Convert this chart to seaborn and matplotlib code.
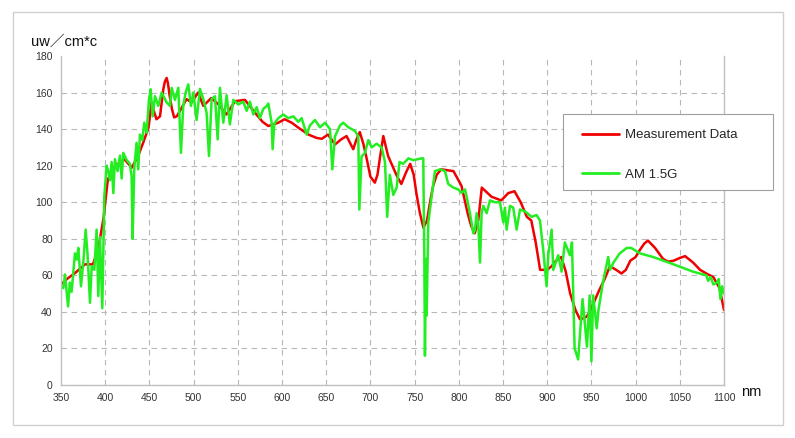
import matplotlib
matplotlib.use("Agg")
import matplotlib.pyplot as plt
import seaborn as sns
import pandas as pd
from matplotlib.patches import Rectangle

# ---------------- data ----------------
meas_nm = [350, 358, 366, 377, 386, 392, 398, 403, 411, 422, 430, 437, 443, 449, 452.5, 455, 458,
           462, 465.7, 467.5, 469.5, 471, 473, 475.5, 478, 481, 484.6, 492, 497.8, 505, 511, 520,
           528, 537, 547, 558, 569.4, 578, 584.5, 595.8, 603, 611, 618.5, 630, 639, 645, 652,
           660, 667, 673, 680.6, 684, 688, 692, 696, 700, 705, 708, 711, 714.6, 720, 730, 735,
           740, 745, 749, 752, 756, 760, 764, 768, 771, 775, 780, 794, 803, 810, 814, 818, 822,
           826, 837, 848, 856, 863, 870, 877, 882, 887, 892, 900, 905, 910, 916, 921, 926, 932,
           937, 941, 945, 950, 958, 965, 971, 978, 984, 989, 994, 1000, 1005, 1010, 1014, 1018,
           1022, 1031, 1037, 1043, 1050, 1056, 1065, 1073, 1080, 1088, 1095, 1100]
meas_val = [55, 58.5, 61.3, 66, 66, 74, 91, 112.5, 119.8, 123.4, 118.9, 125, 132.6, 140.8, 154.5,
            150, 145.4, 147, 161.7, 166, 168, 165, 158, 151, 146.4, 147, 150, 156.4, 154.6, 160,
            152.7, 157, 153.6, 148, 155.3, 156, 149, 144, 141.7, 143.5, 145.4, 143.5, 140.8,
            137, 135.2, 134.7, 137, 131.6, 134.4, 136.2, 129, 134, 138.4, 132, 123.4, 114,
            110.7, 115, 125, 136.2, 125.3, 114.3, 110, 116, 121, 115, 105, 94, 86, 90, 101.5,
            109, 115, 118, 117, 109, 94, 87, 83, 90, 108, 103, 101, 105, 106, 100, 92, 90, 78,
            63, 63, 65, 68, 70, 62, 50, 41, 36, 36.5, 37.6, 42, 51, 58, 65, 63, 61, 63, 68, 70,
            74, 77.5, 79, 77, 75, 69, 67.5, 68, 69.5, 70.5, 67, 63, 61, 59, 53, 41]

am_nm = [350, 352.6, 354.5, 358, 360, 362, 365.8, 367.7, 369.6, 372.6, 375.2, 377.9, 380.1, 382.8,
         384.7, 387.7, 390.3, 392.2, 394.1, 396.7, 399, 401.6, 403.5, 405.4, 407.3, 409.2, 411,
         414, 416.7, 418.6, 420.5, 424.3, 428, 429.9, 431, 432.9, 435.5, 437.4, 439.3, 442,
         444.2, 446.9, 449.5, 451.4, 453.7, 456.3, 460.1, 463.8, 469.5, 473.3, 475.2, 478.9,
         482.7, 485.7, 488.3, 491, 494, 497, 499.7, 503.4, 507.2, 511, 514.7, 517.4, 520.4,
         524.2, 527.2, 529.8, 533.6, 537.4, 541, 545, 550.6, 556.2, 560, 563.8, 567.5, 571.3,
         575, 578.8, 582.6, 584.5, 588.3, 589.4, 591.3, 595.8, 601.5, 607, 612.8, 618.5, 622.2,
         627.9, 631.6, 637.3, 643, 648.6, 654.3, 656.9, 659.9, 665.6, 669.3, 675, 682.5, 686.3,
         687.5, 690, 693.8, 697.6, 701.4, 707, 712.7, 716.5, 719, 722, 725.9, 729.7, 733, 737,
         743, 748.5, 758, 759.8, 761, 761.7, 762.9, 763.6, 764.7, 765.5, 769.3, 773, 778.7,
         784.4, 788, 793.8, 799.4, 803.2, 807, 808.9, 812.6, 816.4, 818.3, 820.2, 822, 824,
         825.8, 827.7, 831.5, 835.3, 840.9, 846.6, 850.3, 852.2, 854.1, 857.9, 861.6, 865.4,
         869.2, 874.8, 882.4, 888, 891.8, 895.5, 899.3, 901.2, 905, 906.9, 912.5, 916.3, 920,
         925.7, 928, 931, 935, 940, 945, 948, 950, 952, 956, 958, 963, 969, 971, 975, 982, 990,
         995, 1005, 1020, 1043, 1065, 1080, 1082, 1085, 1088, 1092, 1094, 1096, 1098, 1100]
am_val = [54, 53, 60.5, 43, 56, 51, 72, 68.6, 75, 54, 67, 85, 71, 45, 65, 63, 85, 48.7, 81, 42,
          103, 120, 117, 112, 122, 105, 123.5, 117, 125.5, 113, 127, 123, 121, 114, 80, 119,
          132.5, 118, 137, 134, 143.5, 138, 156, 161.8, 147, 158, 152.7, 160, 154.6, 152.7,
          162.6, 156, 162.6, 127, 152.7, 160, 164.5, 152.7, 160, 145, 162, 156.4, 149, 125.3,
          156.4, 158, 134.4, 162.6, 143.5, 158.5, 142.6, 156, 153.5, 155, 150, 155, 148, 152,
          146, 151, 152.6, 154, 143.5, 129, 143, 146, 148, 146, 147, 144, 146, 137, 142, 145,
          141, 143.5, 140, 118, 136, 142, 143.5, 141, 139, 136, 96, 125, 127, 134, 130, 132,
          130, 122, 92, 115, 104, 108, 122, 121, 124, 123, 124, 124, 70, 16, 69, 38, 66, 89, 103,
          117, 118, 117, 110, 108, 107, 105, 107, 103, 94, 83, 85, 94, 88, 67, 94, 98, 94, 101,
          100, 100, 89, 97, 85, 98, 97, 85, 96, 95, 92, 93, 90, 74, 54, 71, 85, 63, 71, 62, 78,
          71, 78, 20, 14, 47, 21, 49, 13, 49, 31, 41, 56, 70, 63, 67, 72, 75, 75, 72, 70, 66, 62,
          60, 57, 59, 55, 56, 58, 47, 54, 50]

x_ticks = [350, 400, 450, 500, 550, 600, 650, 700, 750, 800, 850, 900, 950, 1000, 1050, 1100]
y_ticks = [0, 20, 40, 60, 80, 100, 120, 140, 160, 180]
series_names = ["Measurement Data", "AM 1.5G"]
series_colors = ["#F00000", "#22EE22"]

df = pd.concat([
    pd.DataFrame({"nm": meas_nm, "val": meas_val, "series": series_names[0]}),
    pd.DataFrame({"nm": am_nm, "val": am_val, "series": series_names[1]}),
], ignore_index=True)

# ---------------- plot ----------------
sns.set_theme(style="white")
plt.rcParams["font.family"] = ["Liberation Sans", "Noto Sans CJK JP", "DejaVu Sans"]

fig = plt.figure(figsize=(7.95, 4.38), dpi=100)
ax = fig.add_axes([61 / 795, 53 / 438, (724 - 61) / 795, (385 - 56) / 438])

sns.lineplot(data=df, x="nm", y="val", hue="series", hue_order=series_names,
             palette=series_colors, linewidth=1.8, sort=False, estimator=None, ax=ax)

ax.set_xlim(350, 1100)
ax.set_ylim(0, 180)
ax.set_xticks(x_ticks)
ax.set_yticks(y_ticks)
ax.tick_params(axis="both", length=0, labelsize=7.5, colors="#333333", pad=6)
ax.set_xlabel("")
ax.set_ylabel("")
ax.grid(True, linestyle=(0, (5, 4)), color="#B8B8B8", linewidth=0.8)
ax.get_ygridlines()[-1].set_visible(False)
ax.set_axisbelow(True)
for side in ["left", "right", "bottom"]:
    ax.spines[side].set_color("#C0C0C0")
    ax.spines[side].set_linewidth(1.0)
ax.spines["top"].set_visible(False)

# legend frame drawn separately for exact placement (below the legend, above the lines)
ax.add_patch(Rectangle((563 / 795, (438 - 190) / 438), 210 / 795, 76 / 438,
                       transform=fig.transFigure, facecolor="white", clip_on=False,
                       edgecolor="#A0A0A0", linewidth=0.8, zorder=4))
leg = ax.legend(loc="upper left", bbox_to_anchor=(582 / 795, (438 - 129) / 438),
                bbox_transform=fig.transFigure, frameon=False,
                fontsize=9.5, handlelength=2.8, labelspacing=2.05, borderpad=0,
                borderaxespad=0, handletextpad=0.45)
leg.set_zorder(6)
for line in leg.get_lines():
    line.set_linewidth(2.0)

fig.text(31 / 795, (438 - 42) / 438, "uw／cm*c", fontsize=10.5, va="center", ha="left",
         color="#111111")
fig.text(751 / 795, (438 - 392) / 438, "nm", fontsize=10.5, va="center", ha="center",
         color="#111111")

fig.patches.append(Rectangle((13 / 795, (438 - 425) / 438), 770 / 795, 413 / 438,
                             transform=fig.transFigure, fill=False, edgecolor="#D0D0D0",
                             linewidth=1.0))

fig.savefig("out.png", dpi=100)
